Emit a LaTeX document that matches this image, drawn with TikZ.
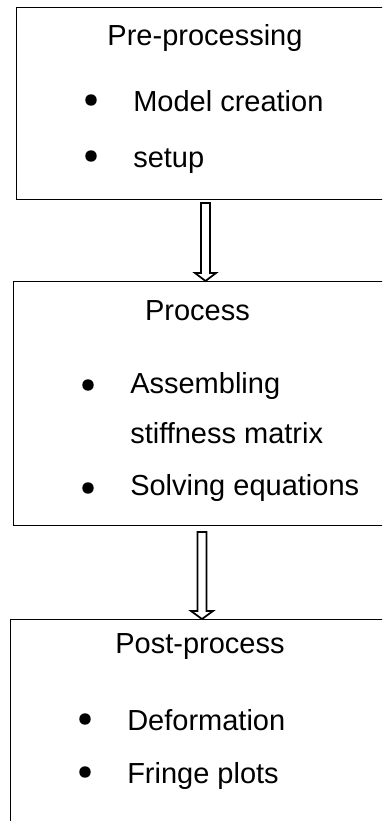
\documentclass[tikz,border=0pt]{standalone}
\usepackage{fontspec}
\setmainfont{Liberation Sans}
\usetikzlibrary{calc}
\begin{document}
\begin{tikzpicture}[x=0.75pt,y=-0.75pt,
  stage/.style={draw=black, line width=1pt, anchor=north west, minimum width=450pt, inner sep=0pt},
  title/.style={anchor=base, inner sep=0pt, font=\fontsize{21.75pt}{26pt}\selectfont},
  item/.style={anchor=base west, inner sep=0pt, font=\fontsize{21.75pt}{26pt}\selectfont},
  dot/.style={circle, fill=black, inner sep=0pt, minimum size=8.6pt},
  blockarrow/.style={draw=black, line width=1.3pt, fill=white, line join=miter}]
\useasboundingbox (0,0) rectangle (382,821);
\clip (0,0) rectangle (382,821);
% boxes
\node[stage, minimum height=144pt] (pre) at (16,7) {};
\node[stage, minimum height=183pt] (proc) at (13,281) {};
\node[stage, minimum height=200pt] (post) at (10,619) {};
% box 1 text
\node[title] (t1) at (205,45) {Pre-processing};
\node[dot] (b11) at (91,100) {};
\node[item] (i11) at (133,111) {Model creation};
\node[dot] (b12) at (91,156) {};
\node[item] (i12) at (133,167) {setup};
% box 2 text
\node[title] (t2) at (197.5,320) {Process};
\node[dot] (b21) at (88,385) {};
\node[item] (i21) at (130,393) {Assembling};
\node[item] (i22) at (130,443) {stiffness matrix};
\node[dot] (b22) at (88,488) {};
\node[item] (i23) at (130,495) {Solving equations};
% box 3 text
\node[title] (t3) at (200,653) {Post-process};
\node[dot] (b31) at (85,719) {};
\node[item] (i31) at (127,730) {Deformation};
\node[dot] (b32) at (85,772) {};
\node[item] (i32) at (127,783) {Fringe plots};
% arrows
\coordinate (a1s) at (205.5,203);
\coordinate (a1t) at (proc.north -| a1s);
\draw[blockarrow] ($(a1s)+(-4.5,0)$) -- ($(a1t)+(-4.5,-8)$) -- ($(a1t)+(-10.5,-8)$) -- (a1t)
  -- ($(a1t)+(10.5,-8)$) -- ($(a1t)+(4.5,-8)$) -- ($(a1s)+(4.5,0)$) -- cycle;
\coordinate (a2s) at (202,532);
\coordinate (a2t) at (post.north -| a2s);
\draw[blockarrow] ($(a2s)+(-4.5,0)$) -- ($(a2t)+(-4.5,-8)$) -- ($(a2t)+(-11,-8)$) -- (a2t)
  -- ($(a2t)+(11,-8)$) -- ($(a2t)+(4.5,-8)$) -- ($(a2s)+(4.5,0)$) -- cycle;
\end{tikzpicture}
\end{document}
